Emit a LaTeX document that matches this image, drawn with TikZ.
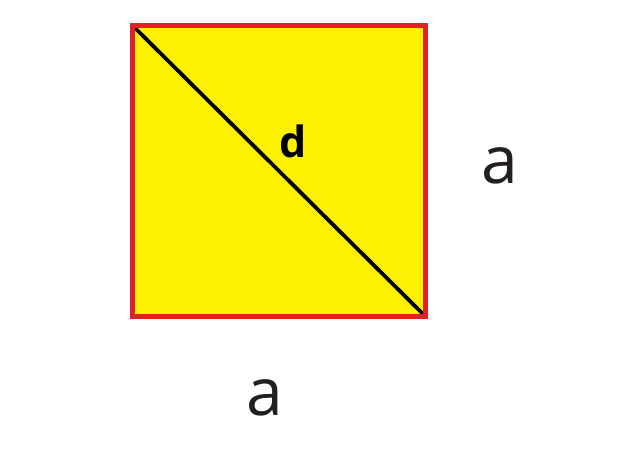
\documentclass[tikz,border=0pt]{standalone}
\usepackage{fontspec}
\setmainfont{Open Sans}
\definecolor{sqyellow}{RGB}{255,242,0}
\definecolor{sqred}{RGB}{222,35,40}
\definecolor{txtgray}{RGB}{35,31,32}
\begin{document}
\begin{tikzpicture}[x=1pt,y=1pt,
  side/.style={inner sep=0pt,text=txtgray,font=\fontsize{66}{70}\selectfont},
  diaglabel/.style={inner sep=0pt,font=\bfseries\fontsize{43}{47}\selectfont}]
\useasboundingbox (0,0) rectangle (620,451);
\coordinate (tl) at (132.5,425.5);
\coordinate (br) at (425.5,134.5);
\fill[sqyellow] (tl) rectangle (br);
\draw[black,line width=3.8pt] (tl) -- (br);
\draw[sqred,line width=5pt] (tl) rectangle (br);
\node[diaglabel,anchor=base] (d) at (293,294) {d};
\node[side,anchor=base] (ar) at (500,268) {a};
\node[side,anchor=base] (ab) at (265,36) {a};
\end{tikzpicture}
\end{document}
